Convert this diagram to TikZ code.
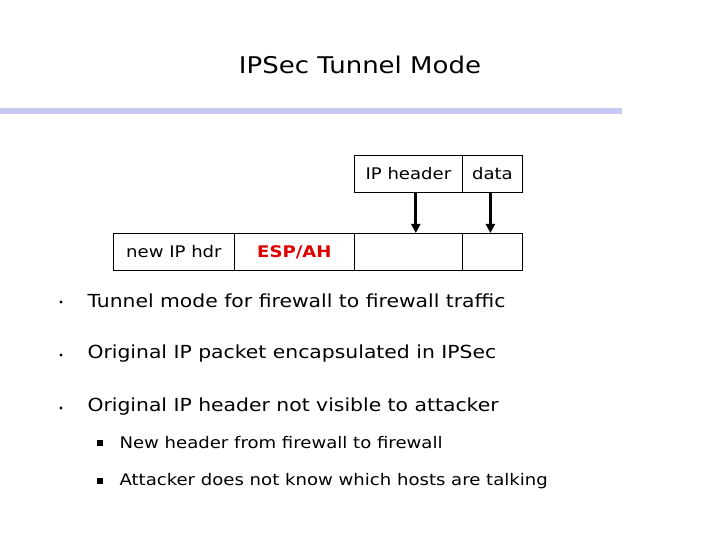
\documentclass[tikz,border=0pt]{standalone}
\usepackage{fontspec}
\setmainfont[FakeStretch=1.13]{DejaVu Sans}
\usetikzlibrary{arrows.meta}
\definecolor{bar}{RGB}{200,200,245}
\definecolor{espred}{RGB}{220,0,0}
\tikzset{cell/.style={draw,line width=0.8pt,minimum height=37pt,inner sep=0pt,anchor=north west,font=\fontsize{16}{16}\selectfont},
bul/.style={anchor=west,font=\fontsize{18}{20}\selectfont},
sub/.style={anchor=west,font=\fontsize{16}{18}\selectfont},
arr/.style={-{Triangle[length=9pt,width=9pt]},line width=3pt}}
\begin{document}
\begin{tikzpicture}[x=1pt,y=-1pt]
\useasboundingbox (0,0) rectangle (720,540);
\node[font=\fontsize{23}{26}\selectfont] (title) at (360,65) {IPSec Tunnel Mode};
\fill[bar] (0,108) rectangle (622,114);
\node[cell,minimum width=108pt] (iph) at (354,155) {IP header};
\node[cell,minimum width=60pt] (dat) at (462,155) {data};
\node[cell,minimum width=121pt] (new) at (113,233) {new IP hdr};
\node[cell,minimum width=120pt,text=espred,font=\fontsize{16}{16}\selectfont\bfseries] (esp) at (234,233) {ESP/AH};
\node[cell,minimum width=108pt] (b3) at (354,233) {};
\node[cell,minimum width=60pt] (b4) at (462,233) {};
\draw[arr] (iph.south east) ++(-47,0) coordinate (a1) -- (a1 |- b3.north);
\draw[arr] (dat.south) ++(-2,0) coordinate (a2) -- (a2 |- b4.north);
\foreach \y/\t in {301/Tunnel mode for firewall to firewall traffic,354/Original IP packet encapsulated in IPSec,407/Original IP header not visible to attacker}{
  \fill (61,\y+1) circle (1.6pt);
  \node[bul] at (84,\y) {\t};
}
\foreach \y/\t in {443/New header from firewall to firewall,481/Attacker does not know which hosts are talking}{
  \fill (97,\y-3) rectangle (103,\y+3);
  \node[sub] at (116,\y) {\t};
}
\end{tikzpicture}
\end{document}
